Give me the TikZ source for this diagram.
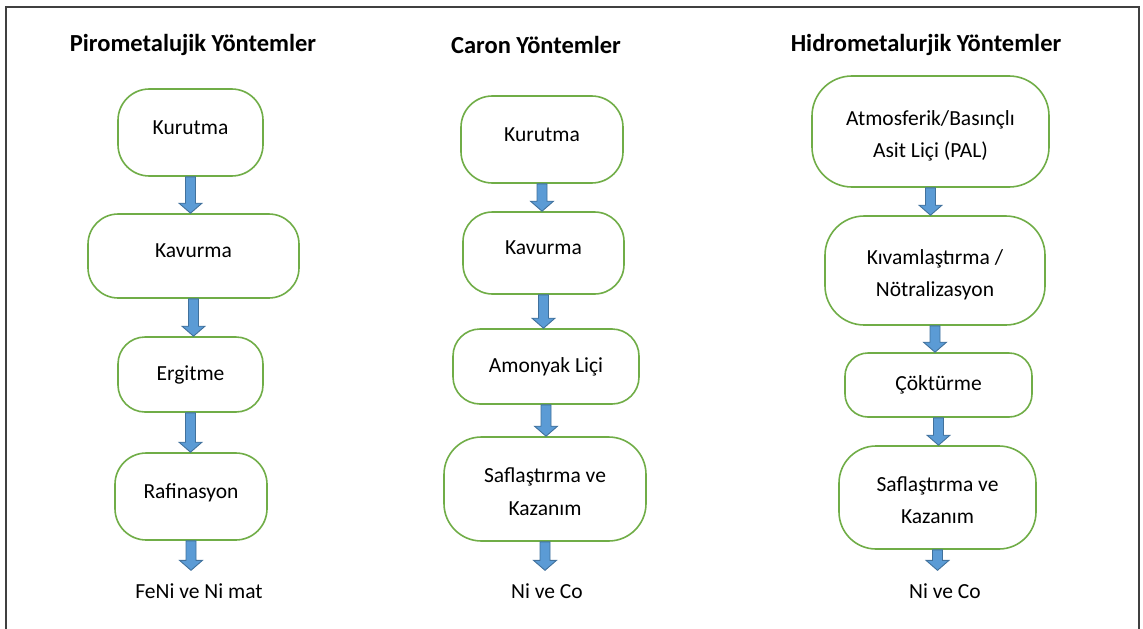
\documentclass[tikz,border=0pt]{standalone}
\usepackage{fontspec}
\setmainfont{Carlito}
\usetikzlibrary{calc}
\definecolor{boxgreen}{HTML}{70AD47}
\definecolor{arrowfill}{HTML}{5B9BD5}
\definecolor{arrowedge}{HTML}{41719C}
\definecolor{framegray}{HTML}{404040}
\tikzset{
  stage/.style 2 args={draw=boxgreen, line width=1.6pt, fill=white,
    rounded corners=#2*0.36, minimum width=#1, minimum height=#2,
    align=center, inner sep=0pt, font=\fontsize{21.5}{32.5}\selectfont},
  lifted/.style={text depth=10pt},
  twoline/.style={text height=52pt, text depth=0pt},
  title/.style={font=\bfseries\fontsize{24.5}{28}\selectfont},
  result/.style={font=\fontsize{21.5}{26}\selectfont, inner ysep=13pt},
  flow/.style={draw=arrowedge, fill=arrowfill, line width=0.9pt,
    to path={let \p1=(\tikztostart), \p2=(\tikztotarget) in
      (\x1-5pt,\y1) -- (\x1+5pt,\y1) -- (\x1+5pt,\y2+10pt) -- (\x1+11.5pt,\y2+10pt)
      -- (\x1,\y2) -- (\x1-11.5pt,\y2+10pt) -- (\x1-5pt,\y2+10pt) -- cycle}}
}
\begin{document}
\begin{tikzpicture}[x=1pt,y={(0pt,-1pt)}]
  \useasboundingbox (0,0) rectangle (1143,629) ;
  \draw[framegray,line width=1.5pt] (6,629) -- (6,7) -- (1139,7) -- (1139,629) ;
  % column titles
  \node[title] (tpiro) at (193,45) {Pirometalujik Yöntemler} ;
  \node[title] (tcaron) at (536,45) {Caron Yöntemler} ;
  \node[title] (thidro) at (926,45) {Hidrometalurjik Yöntemler} ;
  % pirometalurjik
  \node[stage={145pt}{87pt},lifted] (p1) at (190.5,132.5) {Kurutma} ;
  \node[stage={211pt}{84pt},lifted] (p2) at (193.5,256) {Kavurma} ;
  \node[stage={145pt}{75pt}] (p3) at (190.5,374.5) {Ergitme} ;
  \node[stage={152pt}{87pt},lifted] (p4) at (191,496.5) {Rafinasyon} ;
  \node[result] (pout) at (199,591) {FeNi ve Ni mat} ;
  % caron
  \node[stage={162pt}{87pt},lifted] (c1) at (542,139.5) {Kurutma} ;
  \node[stage={161pt}{82pt},lifted] (c2) at (543.5,253) {Kavurma} ;
  \node[stage={186pt}{75pt}] (c3) at (546,366.5) {Amonyak Liçi} ;
  \node[stage={202pt}{104pt},twoline] (c4) at (545,489) {Saflaştırma ve\\Kazanım} ;
  \node[result] (cout) at (547,591) {Ni ve Co} ;
  % hidrometalurjik
  \node[stage={237pt}{111pt},twoline] (h1) at (930.5,131.5) {Atmosferik/Basınçlı\\Asit Liçi (PAL)} ;
  \node[stage={220pt}{109pt},twoline] (h2) at (935,270.5) {Kıvamlaştırma /\\Nötralizasyon} ;
  \node[stage={187pt}{64pt}] (h3) at (938.5,385) {Çöktürme} ;
  \node[stage={197pt}{103pt},twoline] (h4) at (937.5,497.5) {Saflaştırma ve\\Kazanım} ;
  \node[result] (hout) at (945,591) {Ni ve Co} ;
  % block arrows
  \draw[flow] (p1.south) to (p2.north) ;
  \draw[flow] (p2.south) to (p3.north) ;
  \draw[flow] (p3.south) to (p4.north) ;
  \draw[flow] (p4.south) to (pout.north) ;
  \draw[flow] (c1.south) to (c2.north) ;
  \draw[flow] (c2.south) to (c3.north) ;
  \draw[flow] (c3.south) to (c4.north) ;
  \draw[flow] (c4.south) to (cout.north) ;
  \draw[flow] (h1.south) to (h2.north) ;
  \draw[flow] (h2.south) to (h3.north) ;
  \draw[flow] (h3.south) to (h4.north) ;
  \draw[flow] (h4.south) to (hout.north) ;
\end{tikzpicture}
\end{document}
